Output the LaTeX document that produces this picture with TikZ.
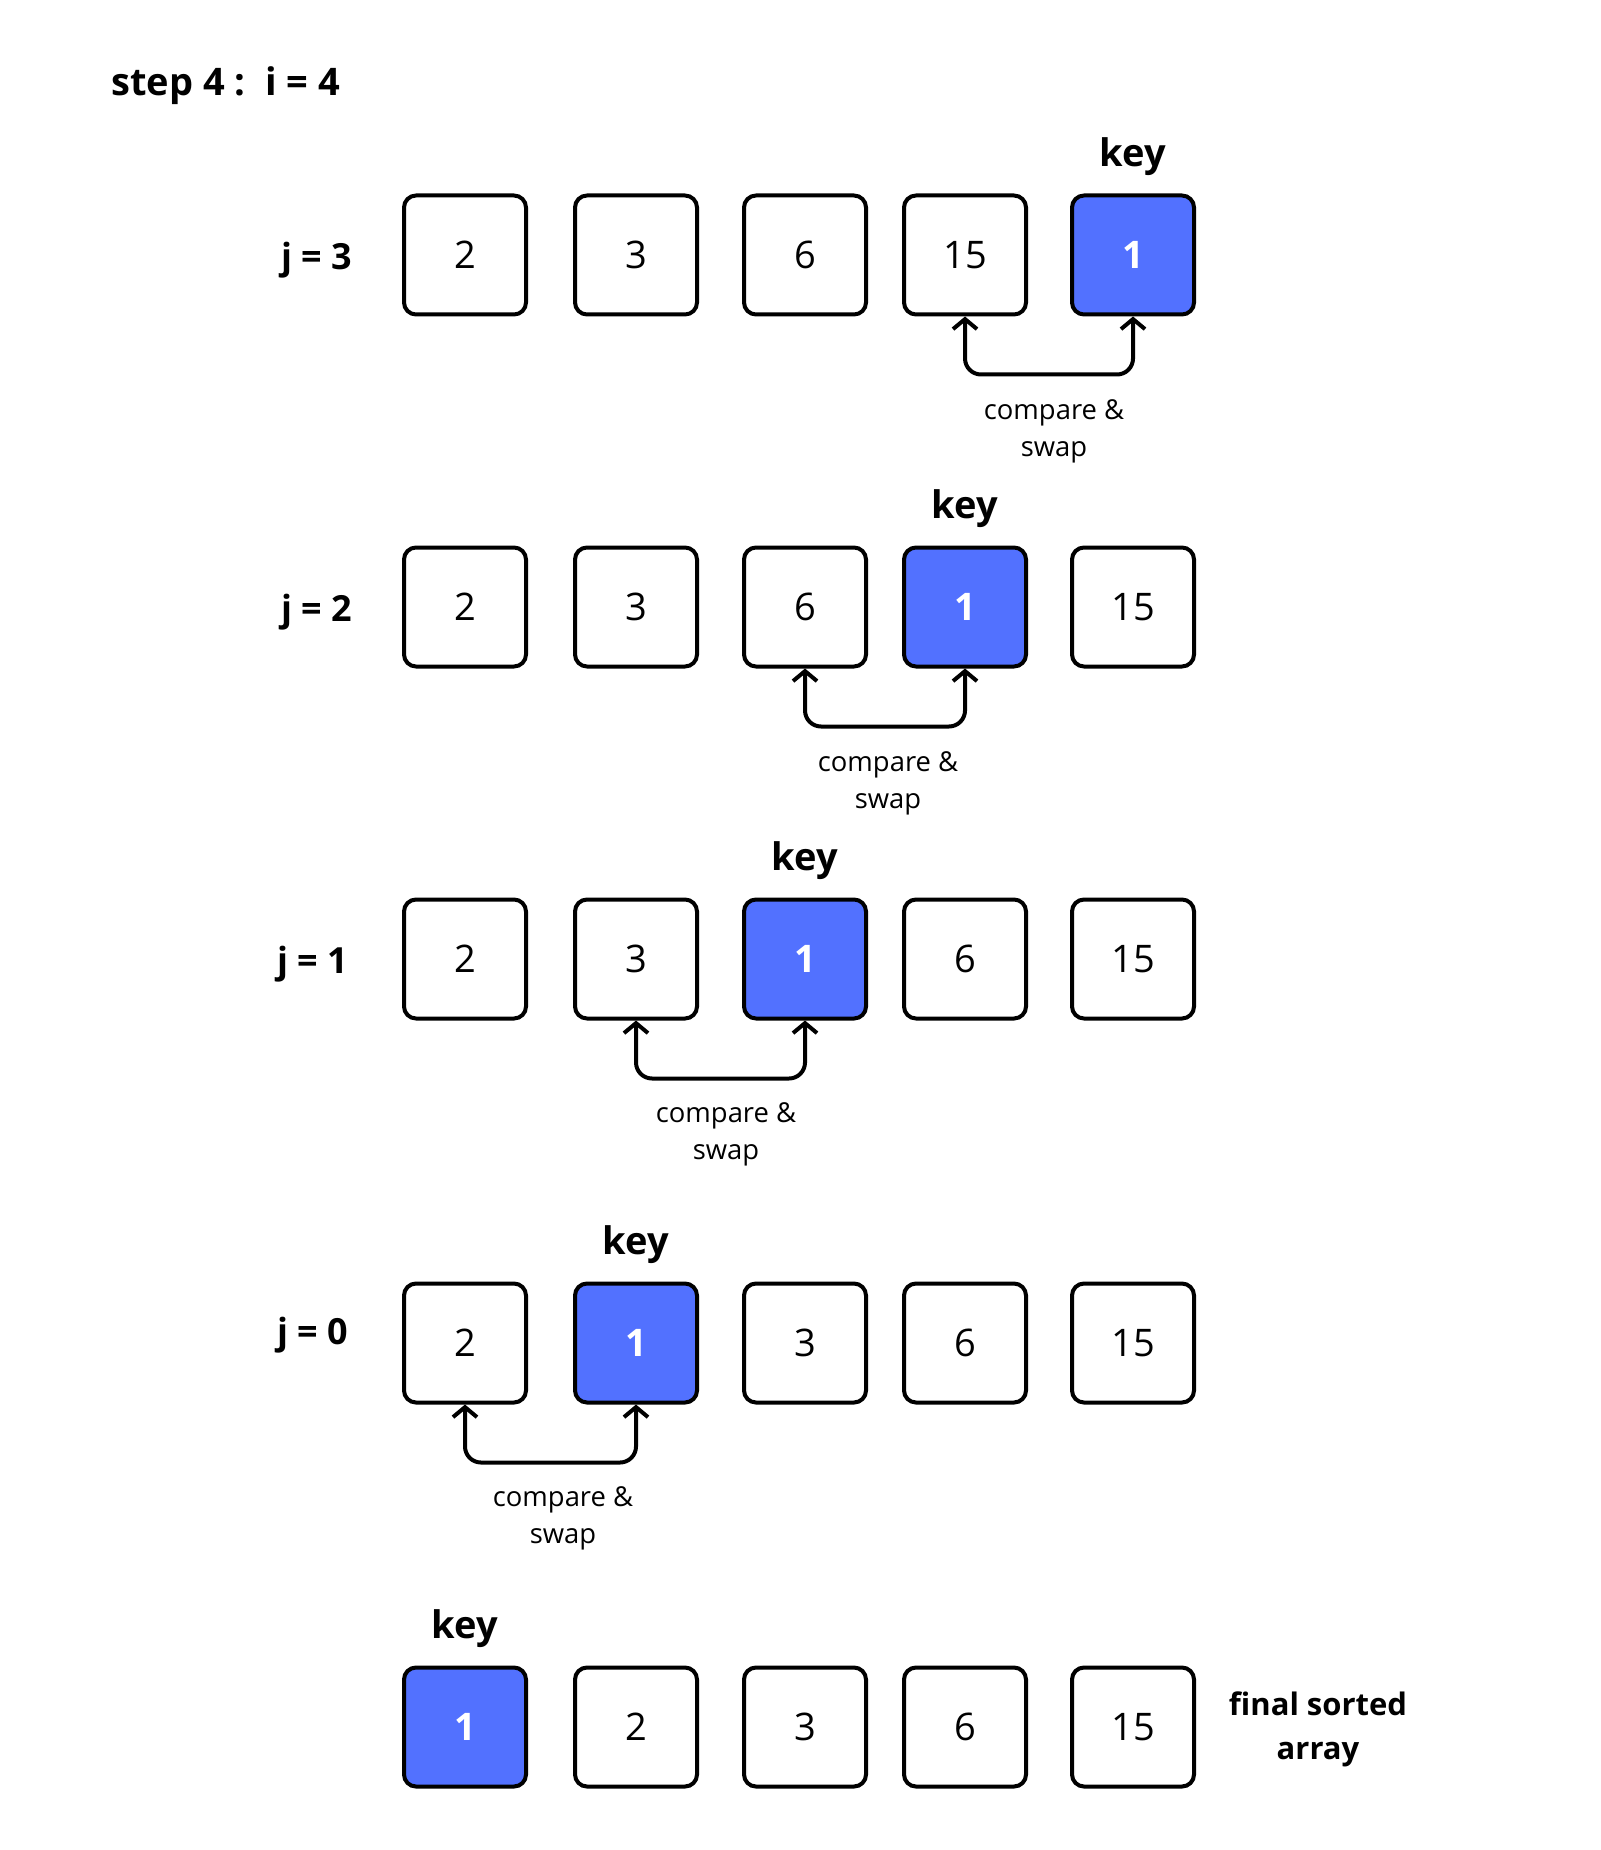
\documentclass[tikz,border=0pt]{standalone}
\usepackage{fontspec}
\setmainfont{Open Sans}
\usepackage{tikz}
\usetikzlibrary{arrows.meta,positioning}
\usepackage{xcolor}
\definecolor{keyblue}{RGB}{82,113,255}
\tikzstyle{cell} = [rectangle, rounded corners=6pt, minimum width=61pt, minimum height=59.5pt, inner sep=0pt, draw=black, line width=2pt, fill=white, font=\fontsize{19}{22}\selectfont]
\tikzstyle{keycell} = [cell, fill=keyblue, text=white, font=\fontsize{19}{22}\selectfont\bfseries]
\tikzstyle{keylabel} = [inner sep=0pt, anchor=south, font=\fontsize{19}{22}\selectfont\bfseries]
\tikzstyle{rowlab} = [inner sep=0pt, font=\fontsize{18}{21}\selectfont\bfseries]
\tikzstyle{note} = [inner sep=0pt, align=center, font=\fontsize{13.7}{18.5}\selectfont]
\tikzstyle{arrow} = [line width=2pt, rounded corners=8pt, {Straight Barb[length=5pt,width=12pt]}-{Straight Barb[length=5pt,width=12pt]}]

\begin{document}
\begin{tikzpicture}[x=0.5pt, y=-0.5pt]
\useasboundingbox (0,0) rectangle (1600,1850);

% Heading
\node[inner sep=0pt, anchor=west, font=\fontsize{19}{23}\selectfont\bfseries] (title) at (111,86) {step 4 :~~i = 4};

% j = 3
\node[rowlab] (j3lab) at (317,260) {j = 3};
\node[cell] (j3c1) at (465,255) {2};
\node[cell] (j3c2) at (636,255) {3};
\node[cell] (j3c3) at (805,255) {6};
\node[cell] (j3c4) at (965,255) {15};
\node[keycell] (j3c5) at (1133,255) {1};
\node[keylabel, above=8.5pt of j3c5] (j3key) {key};
\draw[arrow] (j3c4.south) -- ++(0,58) -| (j3c5.south);
\node[note] (j3note) at (1054,431) {compare \&\\swap};

% j = 2
\node[rowlab] (j2lab) at (317,612) {j = 2};
\node[cell] (j2c1) at (465,607) {2};
\node[cell] (j2c2) at (636,607) {3};
\node[cell] (j2c3) at (805,607) {6};
\node[keycell] (j2c4) at (965,607) {1};
\node[cell] (j2c5) at (1133,607) {15};
\node[keylabel, above=8.5pt of j2c4] (j2key) {key};
\draw[arrow] (j2c3.south) -- ++(0,58) -| (j2c4.south);
\node[note] (j2note) at (888,783) {compare \&\\swap};

% j = 1
\node[rowlab] (j1lab) at (313,964) {j = 1};
\node[cell] (j1c1) at (465,959) {2};
\node[cell] (j1c2) at (636,959) {3};
\node[keycell] (j1c3) at (805,959) {1};
\node[cell] (j1c4) at (965,959) {6};
\node[cell] (j1c5) at (1133,959) {15};
\node[keylabel, above=8.5pt of j1c3] (j1key) {key};
\draw[arrow] (j1c2.south) -- ++(0,58) -| (j1c3.south);
\node[note] (j1note) at (726,1134) {compare \&\\swap};

% j = 0
\node[rowlab] (j0lab) at (313,1335) {j = 0};
\node[cell] (j0c1) at (465,1343) {2};
\node[keycell] (j0c2) at (636,1343) {1};
\node[cell] (j0c3) at (805,1343) {3};
\node[cell] (j0c4) at (965,1343) {6};
\node[cell] (j0c5) at (1133,1343) {15};
\node[keylabel, above=8.5pt of j0c2] (j0key) {key};
\draw[arrow] (j0c1.south) -- ++(0,58) -| (j0c2.south);
\node[note] (j0note) at (563,1518) {compare \&\\swap};

% final sorted array
\node[keycell] (finc1) at (465,1727) {1};
\node[cell] (finc2) at (636,1727) {2};
\node[cell] (finc3) at (805,1727) {3};
\node[cell] (finc4) at (965,1727) {6};
\node[cell] (finc5) at (1133,1727) {15};
\node[keylabel, above=8.5pt of finc1] (finkey) {key};
\node[inner sep=0pt, align=center, font=\fontsize{15.5}{22}\selectfont\bfseries] (finlab) at (1318,1729) {final sorted\\array};
\end{tikzpicture}
\end{document}
